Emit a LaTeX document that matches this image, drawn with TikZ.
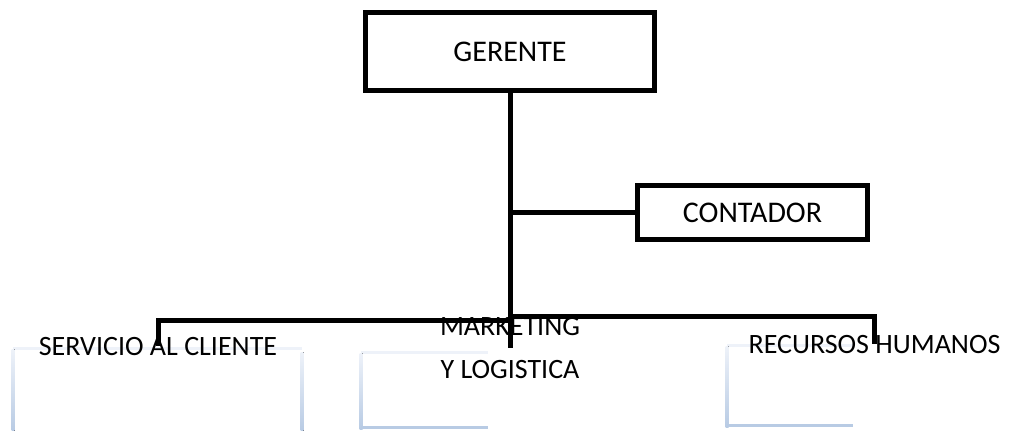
\documentclass[tikz,border=0pt]{standalone}
\usepackage{fontspec}
\setmainfont{Carlito}
\usepackage{tikz}
\usepackage{xcolor}

\definecolor{edgeblue}{RGB}{184,203,228}
\definecolor{edgefaint}{RGB}{238,242,249}

\tikzset{
  orgbox/.style={rectangle, draw=black, line width=3.75pt, fill=white, inner sep=0pt, font=\fontsize{22.5}{27}\selectfont},
  orgline/.style={draw=black, line width=3.75pt},
  orgtext/.style={inner sep=0pt, font=\fontsize{21}{32}\selectfont}
}

\begin{document}
\begin{tikzpicture}[x=0.75pt, y=-0.75pt]
    \useasboundingbox (0,0) rectangle (1013,431);

    % light frames behind the departments
    \draw[edgefaint, line width=2.25pt] (13,348) -- (302,348);
    \fill[top color=edgefaint, bottom color=edgeblue] (11.5,349) rectangle (14.5,431);
    \fill[top color=edgefaint, bottom color=edgeblue] (300.5,352) rectangle (303.5,431);
    \draw[edgefaint, line width=2.25pt] (361,352) -- (488,352);
    \fill[top color=edgefaint, bottom color=edgeblue] (359.5,353) rectangle (362.5,429);
    \draw[edgeblue, line width=2.25pt] (361,427.5) -- (488,427.5);
    \draw[edgefaint, line width=2.25pt] (727,345) -- (853,345);
    \fill[top color=edgefaint, bottom color=edgeblue] (725.5,346) rectangle (728.5,427);
    \draw[edgeblue, line width=2.25pt] (727,425) -- (853,425);

    \node[orgbox, minimum width=216.75pt, minimum height=58.5pt] (gerente) at (510,51.5) {GERENTE};
    \node[orgbox, minimum width=172.5pt, minimum height=40.5pt] (contador) at (752.5,212.5) {CONTADOR};

    \node[orgtext, anchor=base] (servicio) at (158,355) {SERVICIO AL CLIENTE};
    \node[orgtext, anchor=north, align=center] (marketing) at (510,317) {MARKETING\\Y LOGISTICA};
    \node[orgtext, anchor=base] (recursos) at (874.5,353) {RECURSOS HUMANOS};

    \coordinate (split-left) at (510,320);
    \coordinate (split-right) at (510,316);

    \draw[orgline] (gerente.south) -- (marketing.center);
    \draw[orgline] (contador.west) -- (contador.west -| gerente.south);
    \draw[orgline] (split-left) -- (servicio.center |- split-left) -- (servicio.center);
    \draw[orgline] (split-right) -- (recursos.center |- split-right) -- (recursos.center);
\end{tikzpicture}
\end{document}
